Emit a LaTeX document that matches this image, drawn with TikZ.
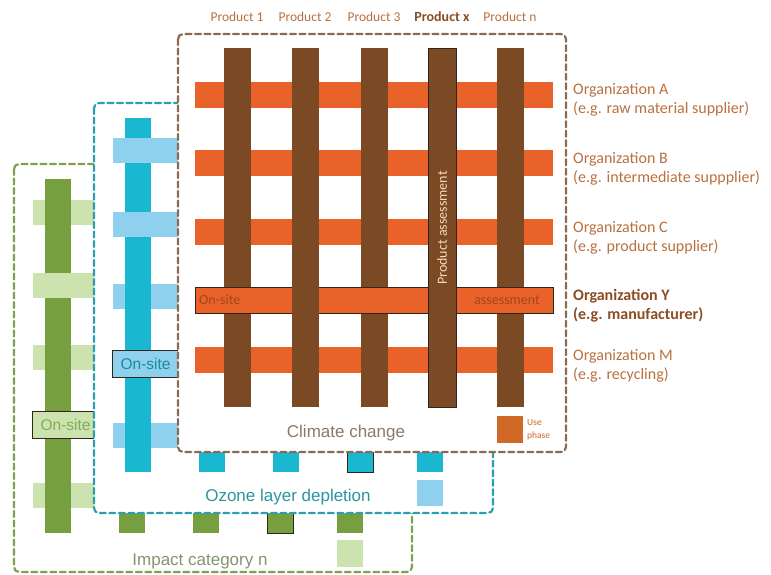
\documentclass[tikz,border=0pt]{standalone}
\usepackage{fontspec}
\setmainfont{Carlito}
\newfontfamily\catfont{Liberation Sans}

%Colors
\definecolor{brownbar}{RGB}{123,74,36}
\definecolor{orangebar}{RGB}{232,98,42}
\definecolor{usephase}{RGB}{208,104,40}
\definecolor{cyanbar}{RGB}{26,184,208}
\definecolor{lightblue}{RGB}{142,208,238}
\definecolor{greenbar}{RGB}{118,160,64}
\definecolor{lightgreen}{RGB}{204,227,176}
\definecolor{brownframe}{RGB}{138,106,80}
\definecolor{cyanframe}{RGB}{42,159,176}
\definecolor{greenframe}{RGB}{128,160,80}
\definecolor{barline}{RGB}{50,36,24}
\definecolor{labeltext}{RGB}{185,112,62}
\definecolor{labelbold}{RGB}{138,76,32}

\begin{document}
\begin{tikzpicture}
	[x=1pt,y=-1pt,line cap=round,
	%Styles
	frame/.style={draw=#1,fill=white,line width=2.2pt,dash pattern=on 6pt off 3.5pt,rounded corners=5pt},
	outlined/.style={draw=barline,line width=1pt},
	org label/.style={anchor=west,align=left,inner sep=0pt,text=labeltext,font=\fontsize{16}{19}\selectfont},
	org bold/.style={org label,text=labelbold,font=\fontsize{16}{19}\selectfont\bfseries},
	product label/.style={inner sep=0pt,text=labeltext,font=\fontsize{13.5}{16}\selectfont},
	category/.style={inner sep=0pt,font=\catfont\fontsize{17}{20}\selectfont},
	onsite box/.style={outlined,line width=1.2pt,anchor=west,minimum width=66pt,minimum height=27pt,inner sep=0pt,font=\catfont\fontsize{15.5}{18}\selectfont},
	bar text/.style={inner sep=0pt,font=\fontsize{14}{16}\selectfont}
	]
	
	\useasboundingbox (0,0) rectangle (771,574);
	
	%Impact category n (green layer)
	\draw[frame=greenframe] (14,164) rectangle (412,572);
	\foreach \y in {212,357,495}
		\fill[lightgreen] (33,\y-12.5) rectangle (380,\y+12.5);
	\foreach \x in {58,132,206,350}
		\fill[greenbar] (\x-13,179) rectangle (\x+13,533);
	\filldraw[greenbar,outlined] (280-13,179) rectangle (280+13,533);
	\fill[lightgreen] (33,285-12.5) rectangle (380,285+12.5);
	\node[onsite box,fill=lightgreen,text={rgb,255:red,130;green,172;blue,88}] (G-onsite) at (32,425) {On-site};
	\fill[lightgreen] (337,540) rectangle (363,567);
	\node[category,text={rgb,255:red,130;green,150;blue,110}] (G-name) at (200,561) {Impact category n};
	
	%Ozone layer depletion (cyan layer)
	\draw[frame=cyanframe] (94,103) rectangle (493,513);
	\foreach \y in {296,435}
		\fill[lightblue] (113,\y-12.5) rectangle (470,\y+12.5);
	\foreach \x in {138,212,286,430}
		\fill[cyanbar] (\x-13,118) rectangle (\x+13,472);
	\filldraw[cyanbar,outlined] (360-13,118) rectangle (360+13,472);
	\foreach \y in {150,224}
		\fill[lightblue] (113,\y-12.5) rectangle (470,\y+12.5);
	\node[onsite box,fill=lightblue,text={rgb,255:red,26;green,140;blue,160}] (C-onsite) at (112,364) {On-site};
	\fill[lightblue] (417,480) rectangle (443,506);
	\node[category,text={rgb,255:red,42;green,150;blue,160}] (C-name) at (288,497) {Ozone layer depletion};
	
	%Climate change (brown layer)
	\draw[frame=brownframe] (178,34) rectangle (566,452);
	\foreach \y in {95,163,232,360}
		\fill[orangebar] (195,\y-13) rectangle (553,\y+13);
	\foreach \x in {237,374,510}
		\fill[brownbar] (\x-13.5,48) rectangle (\x+13.5,407);
	\filldraw[orangebar,outlined] (195,287) rectangle (553,313);
	\node[bar text,anchor=west,text={rgb,255:red,165;green,70;blue,24}] (onsite) at (199,300) {On-site};
	\node[bar text,anchor=east,text={rgb,255:red,165;green,70;blue,24}] (assess) at (540,300) {assessment};
	\fill[brownbar] (305-13.5,48) rectangle (305+13.5,407);
	\filldraw[brownbar,outlined] (442-14,48) rectangle (442+14,407);
	\node[bar text,rotate=90,text={rgb,255:red,242;green,218;blue,188}] (prod-assess) at (442,228) {Product assessment};
	\fill[usephase] (497,416) rectangle (523,443);
	\node[anchor=west,align=left,inner sep=0pt,text=usephase,font=\fontsize{9.5}{13}\selectfont] (use) at (527,430) {Use\\phase};
	\node[category,text={rgb,255:red,138;green,120;blue,104}] (B-name) at (346,433) {Climate change};
	
	%Products
	\node[product label] (P1) at (237,17) {Product 1};
	\node[product label] (P2) at (305,17) {Product 2};
	\node[product label] (P3) at (374,17) {Product 3};
	\node[product label,text=labelbold,font=\fontsize{14}{16}\selectfont\bfseries] (Px) at (442,17) {Product x};
	\node[product label] (Pn) at (510,17) {Product n};
	
	%Organizations
	\node[org label] (OA) at (573,100) {Organization A\\(e.g. raw material supplier)};
	\node[org label] (OB) at (573,169) {Organization B\\(e.g. intermediate suppplier)};
	\node[org label] (OC) at (573,238) {Organization C\\(e.g. product supplier)};
	\node[org bold] (OY) at (573,306) {Organization Y\\(e.g. manufacturer)};
	\node[org label] (OM) at (573,366) {Organization M\\(e.g. recycling)};
\end{tikzpicture}
\end{document}
